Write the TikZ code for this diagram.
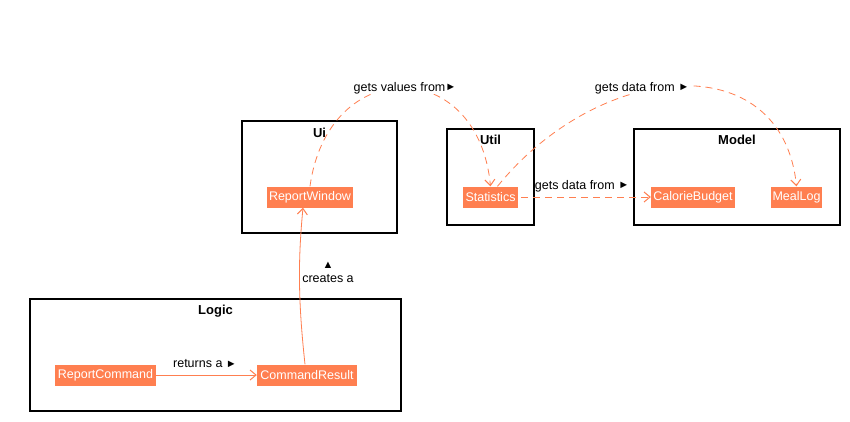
\documentclass[tikz,border=0pt]{standalone}
\usepackage{fontspec}
\setmainfont{Liberation Sans}
\usetikzlibrary{arrows.meta}
\definecolor{coral}{HTML}{FF7F50}
\newcommand{\tri}[1]{\raisebox{0.3pt}{\fontsize{11}{11}\selectfont#1}}
\begin{document}
\begin{tikzpicture}[x=1pt,y=-1pt,
  font=\fontsize{12.5}{14}\selectfont,
  pkg/.style={draw=black,line width=1.3pt,fill=white},
  cls/.style={fill=coral,text=white,inner sep=0pt,minimum height=21pt,anchor=center},
  title/.style={font=\fontsize{13}{15}\selectfont\bfseries},
  conn/.style={draw=coral,line width=0.8pt,-{Straight Barb[length=6pt,width=10pt,line width=1pt]}},
  dsh/.style={conn,dash pattern=on 7pt off 5pt},
  lbl/.style={inner sep=0pt,text=black}]
\useasboundingbox (0,0) rectangle (850,421);
\fill[white] (0,0) rectangle (850,421);
% packages
\node[pkg,minimum width=155pt,minimum height=112pt,inner sep=0pt] (ui) at (319.5,177) {};
\node[title] (uit) at (319.5,133) {Ui};
\node[pkg,minimum width=87pt,minimum height=96pt,inner sep=0pt] (util) at (490.5,177) {};
\node[title] (utilt) at (490.5,140) {Util};
\node[pkg,minimum width=206pt,minimum height=96pt,inner sep=0pt] (model) at (737,177) {};
\node[title] (modelt) at (737,140) {Model};
\node[pkg,minimum width=371pt,minimum height=112pt,inner sep=0pt] (logic) at (215.5,355) {};
\node[title] (logict) at (215.5,311) {Logic};
% classes
\node[cls,minimum width=86pt] (rw) at (310,197) {ReportWindow};
\node[cls,minimum width=55pt] (st) at (490.5,197) {Statistics};
\node[cls,minimum width=84pt] (cb) at (693,197) {CalorieBudget};
\node[cls,minimum width=51pt] (ml) at (796.5,197) {MealLog};
\node[cls,minimum width=101pt] (rc) at (105.5,375) {ReportCommand};
\node[cls,minimum width=100pt] (cr) at (307,375) {CommandResult};
% connectors
\draw[conn] (rc.east) -- (cr.west);
\node[lbl] (l1) at (205,364) {returns a \tri{►}};
\draw[conn] ([xshift=-2pt]cr.north) .. controls (298,300) and (298,260) .. ([xshift=-7pt]rw.south);
\node[lbl] (l2a) at (328,265) {\tri{▲}};
\node[lbl] (l2) at (328,279) {creates a};
\draw[dsh] (rw.north) .. controls (328,55) and (478,55) .. (st.north);
\node[lbl,fill=white,inner xsep=1pt] (l3) at (405,88) {gets values from\tri{►}};
\draw[dsh] ([xshift=7pt]st.north) .. controls (600,60) and (782,45) .. (ml.north);
\node[lbl,fill=white,inner xsep=1pt] (l4) at (642,88) {gets data from \tri{►}};
\draw[dsh] ([xshift=3pt]st.east) -- (cb.west);
\node[lbl] (l5) at (582,186) {gets data from \tri{►}};
\end{tikzpicture}
\end{document}
